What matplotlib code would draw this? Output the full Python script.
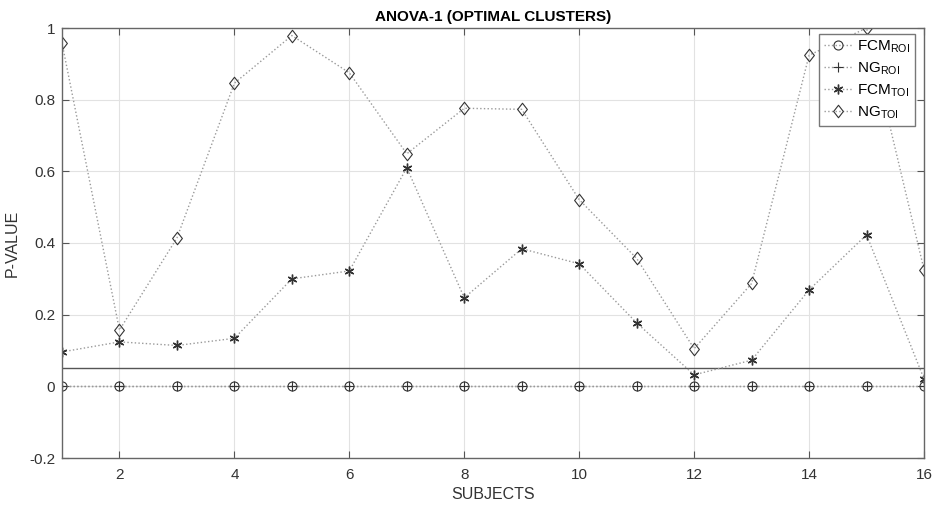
import matplotlib
matplotlib.use("Agg")
import matplotlib.pyplot as plt
from matplotlib.path import Path
import numpy as np

subjects = list(range(1, 17))
fcm_roi = [0.0] * 16
ng_roi = [0.0] * 16
fcm_toi = [0.096, 0.124, 0.114, 0.134, 0.300, 0.322, 0.610, 0.247,
           0.384, 0.342, 0.177, 0.032, 0.073, 0.269, 0.423, 0.021]
ng_toi = [0.958, 0.157, 0.414, 0.846, 0.979, 0.875, 0.649, 0.776,
          0.773, 0.521, 0.357, 0.105, 0.287, 0.924, 1.000, 0.326]
alpha_level = 0.05

y_ticks = [-0.2, 0, 0.2, 0.4, 0.6, 0.8, 1.0]
x_ticks = [2, 4, 6, 8, 10, 12, 14, 16]

plt.rcParams['font.family'] = ['Liberation Sans', 'DejaVu Sans']

fig = plt.figure(figsize=(9.33, 5.05), dpi=100)
ax = fig.add_axes([62 / 933, 1 - 458 / 505, (924 - 62) / 933, (458 - 28) / 505])

# slightly narrow diamond and thin-lined asterisk
diamond = Path([(0, 1), (0.78, 0), (0, -1), (-0.78, 0), (0, 1)],
               [Path.MOVETO, Path.LINETO, Path.LINETO, Path.LINETO, Path.CLOSEPOLY])
asterisk = (6, 2, 0)

line_col = '#9a9a9a'
mk_col = '#333333'
base = dict(linestyle=':', color=line_col, linewidth=1.0,
            markeredgecolor=mk_col, markeredgewidth=0.8)

ax.plot(subjects, fcm_roi, marker='o', markerfacecolor='none', markersize=6.5,
        label=r'FCM$_{\mathregular{ROI}}$', **base)
ax.plot(subjects, ng_roi, marker='+', markersize=7,
        label=r'NG$_{\mathregular{ROI}}$', **base)
ax.plot(subjects, fcm_toi, marker=asterisk, markersize=7,
        label=r'FCM$_{\mathregular{TOI}}$', **{**base, 'markeredgewidth': 1.0})
ax.plot(subjects, ng_toi, marker=diamond, markerfacecolor='none', markersize=9,
        label=r'NG$_{\mathregular{TOI}}$', **base)

ax.axhline(alpha_level, color='#555555', linewidth=1.0, zorder=1)

ax.set_xlim(1, 16)
ax.set_ylim(-0.2, 1.0)
ax.set_xticks(x_ticks)
ax.set_yticks(y_ticks)
ax.set_yticklabels(['%g' % t for t in y_ticks])
ax.grid(True, color='#e2e2e2', linewidth=0.8)
ax.set_axisbelow(True)
ax.tick_params(direction='in', top=True, right=True, length=5,
               color='#555555', labelsize=11, labelcolor='#333333')
ax.tick_params(axis='x', pad=7)
ax.tick_params(axis='y', pad=5)
for s in ax.spines.values():
    s.set_color('#666666')
    s.set_linewidth(1.0)

ax.set_title('ANOVA-1 (OPTIMAL CLUSTERS)', fontsize=11, fontweight='bold', pad=5)
ax.set_xlabel('SUBJECTS', fontsize=11.5, color='#333333', labelpad=4)
ax.set_ylabel('P-VALUE', fontsize=11.5, color='#333333')
ax.yaxis.set_label_coords(-0.0487, 0.5)

leg = ax.legend(loc='upper right', bbox_to_anchor=(0.9896, 0.986), borderaxespad=0,
                fontsize=11, frameon=True, fancybox=False, framealpha=1,
                edgecolor='#777777', handlelength=1.9, labelspacing=0.34,
                borderpad=0.3, handletextpad=0.3)
leg.get_frame().set_linewidth(1.0)

fig.savefig('out.png', dpi=100)
